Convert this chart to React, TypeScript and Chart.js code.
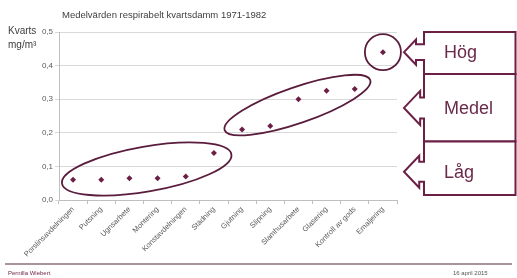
import React, { useEffect, useRef } from "react";
import { Chart, registerables } from "chart.js";

Chart.register(...registerables);

const title = "Medelvärden respirabelt kvartsdamm 1971-1982";
const categories = [
  "Porslinsavdelningen",
  "Putsning",
  "Ugnsarbete",
  "Montering",
  "Konstavdelningen",
  "Städning",
  "Gjutning",
  "Slipning",
  "Slamhusarbete",
  "Glasering",
  "Kontroll av gods",
  "Emaljering",
];
const values = [0.06, 0.06, 0.065, 0.065, 0.07, 0.14, 0.21, 0.22, 0.3, 0.325, 0.33, 0.44];
const yTicks = [0, 0.1, 0.2, 0.3, 0.4, 0.5];
const groupLabels = ["Hög", "Medel", "Låg"];
// each group's band of the value axis: [top, bottom, arrow target]
const groupBands = [
  [0.5, 0.375, 0.44],
  [0.375, 0.174, 0.274],
  [0.174, 0.015, 0.084],
];
// ellipses around groups: [fromIndex, fromValue, toIndex, toValue]
const groupEllipses = [
  [-0.394, 0.0488, 5.62, 0.136],
  [5.38, 0.208, 10.55, 0.357],
  [10.36, 0.44, 11.64, 0.44],
];
const ellipseHalfWidths = [22.5, 18, 18];
const footerLeft = "Pernilla Wiebert";
const footerRight = "16 april 2015";

const MAROON = "#6b1f45";
const FONT = 'Arial, "Liberation Sans", sans-serif';

const overlay = {
  id: "overlay",
  afterDatasetsDraw(chart: any) {
    const ctx = chart.ctx;
    const xs = chart.scales.x;
    const ys = chart.scales.y;
    ctx.save();
    ctx.strokeStyle = "#5a1c3c";
    ctx.lineWidth = 1.8;
    groupEllipses.forEach((e, i) => {
      const x1 = xs.getPixelForValue(e[0]);
      const y1 = ys.getPixelForValue(e[1]);
      const x2 = xs.getPixelForValue(e[2]);
      const y2 = ys.getPixelForValue(e[3]);
      const cx = (x1 + x2) / 2;
      const cy = (y1 + y2) / 2;
      const a = Math.hypot(x2 - x1, y2 - y1) / 2;
      const ang = Math.atan2(y2 - y1, x2 - x1);
      ctx.beginPath();
      ctx.ellipse(cx, cy, a, ellipseHalfWidths[i], ang, 0, Math.PI * 2);
      ctx.stroke();
    });
    ctx.restore();
  },
  afterDraw(chart: any) {
    const ctx = chart.ctx;
    const ys = chart.scales.y;
    const area = chart.chartArea;
    ctx.save();
    // title
    ctx.fillStyle = "#404040";
    ctx.font = `9.5px ${FONT}`;
    ctx.textAlign = "left";
    ctx.textBaseline = "middle";
    ctx.fillText(title, 62, 15);
    // y axis title
    ctx.fillStyle = "#404040";
    ctx.font = `10px ${FONT}`;
    ctx.fillText("Kvarts", 8, 31);
    ctx.fillText("mg/m³", 8, 45);
    // callouts
    const boxL = area.right + 27;
    const boxR = 515.5;
    ctx.strokeStyle = MAROON;
    ctx.lineWidth = 2;
    ctx.lineJoin = "miter";
    groupBands.forEach((b, i) => {
      const top = ys.getPixelForValue(b[0]);
      const bot = ys.getPixelForValue(b[1]);
      const yc = ys.getPixelForValue(b[2]);
      const h = bot - top;
      const headHalf = Math.min(17, h * 0.3);
      const shaftHalf = headHalf * 0.62;
      const tipX = area.right + 7;
      const neckX = tipX + headHalf * 0.95;
      ctx.beginPath();
      ctx.moveTo(boxR, top);
      ctx.lineTo(boxL, top);
      ctx.lineTo(boxL, yc - shaftHalf);
      ctx.lineTo(neckX, yc - shaftHalf);
      ctx.lineTo(neckX, yc - headHalf);
      ctx.lineTo(tipX, yc);
      ctx.lineTo(neckX, yc + headHalf);
      ctx.lineTo(neckX, yc + shaftHalf);
      ctx.lineTo(boxL, yc + shaftHalf);
      ctx.lineTo(boxL, bot);
      ctx.lineTo(boxR, bot);
      ctx.closePath();
      ctx.fillStyle = "#ffffff";
      ctx.fill();
      ctx.stroke();
      ctx.fillStyle = "#6a2a4b";
      ctx.font = `18px ${FONT}`;
      ctx.textAlign = "left";
      ctx.textBaseline = "middle";
      ctx.fillText(groupLabels[i], boxL + 20, yc + 1);
    });
    // footer
    ctx.strokeStyle = "#8c6f7e";
    ctx.lineWidth = 1.5;
    ctx.beginPath();
    ctx.moveTo(5, 264);
    ctx.lineTo(512, 264);
    ctx.stroke();
    ctx.font = `6px ${FONT}`;
    ctx.fillStyle = MAROON;
    ctx.textAlign = "left";
    ctx.fillText(footerLeft, 8, 273);
    ctx.fillStyle = "#555555";
    ctx.fillText(footerRight, 453, 273);
    ctx.restore();
  },
};

export default function App() {
  const ref = useRef<HTMLCanvasElement>(null);
  useEffect(() => {
    if (!ref.current) return;
    const chart = new Chart(ref.current, {
      type: "line",
      data: {
        labels: categories,
        datasets: [
          {
            data: values,
            showLine: false,
            pointStyle: "rectRot",
            pointRadius: 3,
            pointBackgroundColor: MAROON,
            pointBorderColor: MAROON,
            pointBorderWidth: 0,
          },
        ],
      },
      options: {
        animation: false,
        responsive: false,
        devicePixelRatio: 1,
        events: [],
        layout: { padding: { left: 0, top: 32, right: 120, bottom: 0 } },
        plugins: { legend: { display: false }, tooltip: { enabled: false }, title: { display: false } },
        scales: {
          x: {
            offset: true,
            afterFit: (s: any) => {
              s.height = 78;
              s.paddingLeft = 0;
              s.paddingRight = 0;
            },
            grid: {
              offset: true,
              drawOnChartArea: false,
              drawTicks: true,
              tickLength: 4,
              color: "#bfbfbf",
            },
            border: { color: "#bfbfbf", width: 1 },
            ticks: {
              autoSkip: false,
              maxRotation: 45,
              minRotation: 45,
              padding: 1,
              color: "#595959",
              font: { family: FONT, size: 7.5 },
            },
          },
          y: {
            min: 0,
            max: 0.5,
            afterFit: (s: any) => {
              s.width = 59;
            },
            afterBuildTicks: (s: any) => {
              s.ticks = yTicks.map((v) => ({ value: v }));
            },
            grid: { color: "#d9d9d9", tickLength: 4, drawTicks: true },
            border: { color: "#bfbfbf", width: 1 },
            ticks: {
              padding: 2,
              color: "#595959",
              font: { family: FONT, size: 8 },
              callback: (v: any) => Number(v).toFixed(1).replace(".", ","),
            },
          },
        },
      },
      plugins: [overlay],
    });
    return () => chart.destroy();
  }, []);
  return (
    <div style={{ position: "absolute", left: 0, top: 0, width: 517, height: 278, background: "#fff" }}>
      <canvas ref={ref} width={517} height={278} />
    </div>
  );
}
